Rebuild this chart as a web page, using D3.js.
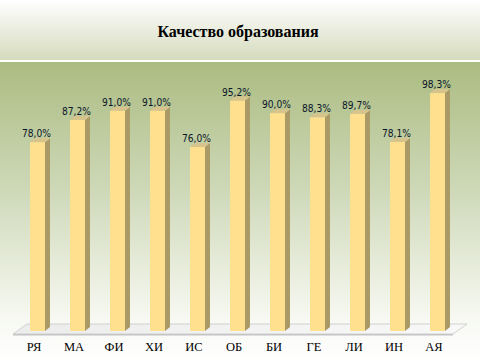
<!DOCTYPE html>
<html><head><meta charset="utf-8">
<script src="https://cdn.jsdelivr.net/npm/d3@7"></script>
<style>html,body{margin:0;padding:0;background:#fff;}svg{display:block;}</style>
</head><body>
<script>
const categories = ["РЯ","МА","ФИ","ХИ","ИС","ОБ","БИ","ГЕ","ЛИ","ИН","АЯ"];
const values = [78.0, 87.2, 91.0, 91.0, 76.0, 95.2, 90.0, 88.3, 89.7, 78.1, 98.3];
const valueLabels = ["78,0%","87,2%","91,0%","91,0%","76,0%","95,2%","90,0%","88,3%","89,7%","78,1%","98,3%"];
const title = "Качество образования";

const W = 480, H = 360;
const svg = d3.select("body").append("svg").attr("width", W).attr("height", H);
const defs = svg.append("defs");

const g1 = defs.append("linearGradient").attr("id","titleGrad").attr("x1",0).attr("y1",0).attr("x2",0).attr("y2",1);
g1.append("stop").attr("offset","0%").attr("stop-color","#ffffff");
g1.append("stop").attr("offset","100%").attr("stop-color","#d5dbbd");
const g2 = defs.append("linearGradient").attr("id","bgGrad").attr("x1",0).attr("y1",0).attr("x2",0).attr("y2",1);
g2.append("stop").attr("offset","0%").attr("stop-color","#abbc81");
g2.append("stop").attr("offset","45%").attr("stop-color","#d0dabb");
g2.append("stop").attr("offset","85%").attr("stop-color","#f6f8f1");
g2.append("stop").attr("offset","100%").attr("stop-color","#ffffff");
const fg = defs.append("linearGradient").attr("id","floorGrad").attr("x1",0).attr("y1",0).attr("x2",1).attr("y2",0);
fg.append("stop").attr("offset","0%").attr("stop-color","#ececec");
fg.append("stop").attr("offset","100%").attr("stop-color","#f8f8f8");

svg.append("rect").attr("x",0).attr("y",0).attr("width",W).attr("height",60).attr("fill","url(#titleGrad)");
svg.append("rect").attr("x",0).attr("y",60).attr("width",W).attr("height",2).attr("fill","#ffffff");
svg.append("rect").attr("x",0).attr("y",62).attr("width",W).attr("height",H-62).attr("fill","url(#bgGrad)");

svg.append("text").attr("x",238).attr("y",37).attr("text-anchor","middle")
  .attr("font-family","'Liberation Serif','Times New Roman',serif").attr("font-weight","bold")
  .attr("font-size",16).attr("fill","#000").text(title);

const x = d3.scalePoint().domain(categories).range([37.5, 437.5]);
const y = d3.scaleLinear().domain([0,100]).range([331, 89]);
const bw = 15, dx = 5, dy = 4;

// floor
const fl = [[27,324],[467,324],[453,334],[13,334]];
svg.append("path").attr("d", d3.line()(fl)+"Z").attr("fill","url(#floorGrad)").attr("stroke","#c8c8c8").attr("stroke-width",0.8);
svg.append("path").attr("d", d3.line()([[13,334],[453,334],[453,335.5],[13,335.5]])+"Z").attr("fill","#c4c4c4");

const bars = svg.append("g").selectAll("g").data(values).join("g");
bars.append("path").attr("fill","#a99a66")
  .attr("d",(d,i)=>{const x0=x(categories[i])+bw/2, yt=y(d), yb=y(0);
    return d3.line()([[x0,yt],[x0+dx,yt-dy],[x0+dx,yb-dy],[x0,yb]])+"Z";});
bars.append("path").attr("fill","#d6c48c")
  .attr("d",(d,i)=>{const x0=x(categories[i])-bw/2, yt=y(d);
    return d3.line()([[x0,yt],[x0+dx,yt-dy],[x0+bw+dx,yt-dy],[x0+bw,yt]])+"Z";});
bars.append("rect").attr("fill","#ffe08f")
  .attr("x",(d,i)=>x(categories[i])-bw/2).attr("y",d=>y(d))
  .attr("width",bw).attr("height",d=>y(0)-y(d));

svg.append("g").selectAll("text").data(values).join("text")
  .attr("x",(d,i)=>x(categories[i])-1).attr("y",d=>y(d)-5)
  .attr("text-anchor","middle").attr("font-family","'DejaVu Sans',sans-serif")
  .attr("font-size",11).attr("fill","#0a1628")
  .attr("textLength",29).attr("lengthAdjust","spacingAndGlyphs")
  .text((d,i)=>valueLabels[i]);

svg.append("g").selectAll("text").data(categories).join("text")
  .attr("x",d=>x(d)-3.5).attr("y",351)
  .attr("text-anchor","middle").attr("font-family","'Liberation Serif','Times New Roman',serif")
  .attr("font-size",12.5).attr("fill","#000").text(d=>d);
</script>
</body></html>
